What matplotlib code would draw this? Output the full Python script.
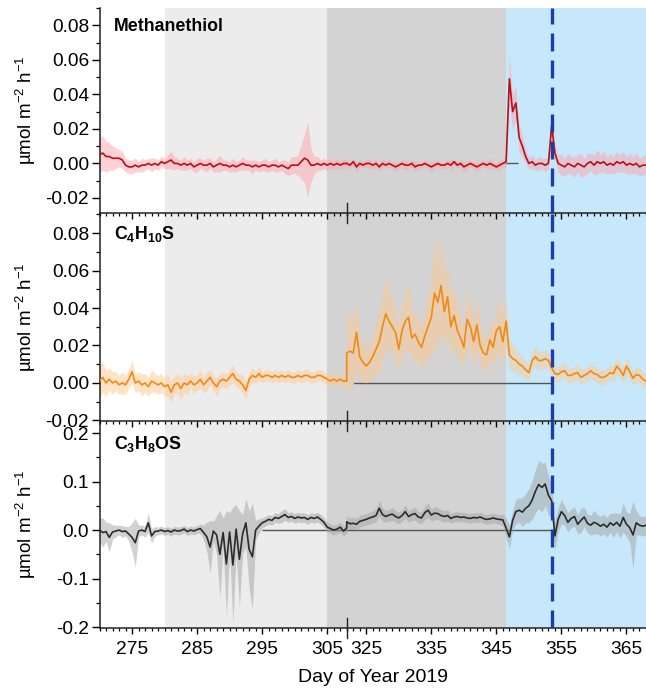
import numpy as np
import matplotlib
matplotlib.use('Agg')
import matplotlib.pyplot as plt
import matplotlib.transforms as mtransforms
from matplotlib.ticker import FixedLocator, MultipleLocator, FormatStrFormatter

plt.rcParams['font.family'] = 'Liberation Sans'
plt.rcParams['mathtext.fontset'] = 'custom'
plt.rcParams['mathtext.rm'] = 'Liberation Sans'
plt.rcParams['mathtext.it'] = 'Liberation Sans:italic'
plt.rcParams['mathtext.bf'] = 'Liberation Sans:bold'
plt.rcParams['axes.unicode_minus'] = False

# x axis is broken between these two days
BREAK_LO, BREAK_HI = 308, 322
EVENT_DAY = 353.5

# half-day samples on both sides of the break
days = np.concatenate([np.arange(270, 308.01, 0.5), np.arange(322, 368.01, 0.5)])

methanethiol = [
    0.005, 0.006, 0.004, 0.004, 0.003, 0.003, 0.003, 0.002, -0.001, -0.002,
    -0.002, -0.001, -0.002, -0.001, -0.001, 0.000, -0.001, 0.000, -0.001, 0.001,
    0.000, 0.001, 0.002, 0.000, 0.000, -0.001, 0.000, -0.001, 0.000, -0.002,
    -0.001, 0.000, -0.001, -0.001, 0.000, -0.002, -0.001, 0.000, -0.001, -0.001,
    -0.002, -0.001, -0.002, -0.001, 0.000, -0.001, -0.001, -0.002, -0.001, -0.002,
    -0.001, -0.001, -0.002, -0.001, -0.001, -0.002, -0.001, -0.002, -0.003, -0.001,
    -0.001, -0.001, 0.001, 0.003, 0.002, -0.001, -0.001, 0.000, -0.001, 0.000,
    -0.001, 0.000, -0.001, 0.000, -0.001, 0.000, 0.000,
    0.000, -0.001, 0.001, -0.002, 0.000, -0.001, 0.000, 0.000, -0.001, 0.000,
    -0.002, 0.000, -0.001, 0.000, -0.001, -0.002, -0.001, 0.000, -0.001, -0.001,
    0.000, -0.002, -0.001, -0.001, 0.000, -0.001, -0.002, -0.001, 0.000, -0.001,
    -0.001, 0.000, -0.001, 0.001, -0.001, 0.000, -0.002, -0.001, 0.000, -0.001,
    -0.002, -0.001, 0.000, -0.001, 0.000, -0.001, -0.002, -0.001, 0.000, 0.001,
    0.049, 0.030, 0.035, 0.015, 0.010, 0.004, 0.000, 0.001, -0.001, 0.000,
    0.000, -0.001, 0.000, 0.022, 0.006, 0.000, -0.001, -0.002, 0.000, -0.001,
    -0.002, 0.000, -0.001, -0.002, 0.000, 0.001, -0.001, 0.001, 0.000, 0.001,
    -0.001, 0.000, -0.001, 0.001, 0.000, 0.001, -0.001, 0.000, -0.001, 0.000,
    -0.002, -0.001, -0.001,
]
methanethiol_err = [
    0.010, 0.010, 0.009, 0.008, 0.007, 0.006, 0.005, 0.005, 0.004, 0.004,
    0.004, 0.004, 0.003, 0.004, 0.003, 0.003, 0.004, 0.003, 0.003, 0.003,
    0.003, 0.004, 0.005, 0.004, 0.003, 0.003, 0.004, 0.003, 0.003, 0.003,
    0.004, 0.003, 0.003, 0.004, 0.003, 0.003, 0.004, 0.005, 0.003, 0.003,
    0.003, 0.004, 0.003, 0.003, 0.004, 0.003, 0.003, 0.004, 0.003, 0.003,
    0.003, 0.004, 0.003, 0.003, 0.004, 0.003, 0.003, 0.004, 0.004, 0.005,
    0.005, 0.006, 0.010, 0.014, 0.022, 0.010, 0.005, 0.004, 0.003, 0.003,
    0.003, 0.003, 0.002, 0.003, 0.002, 0.003, 0.002,
    0.003, 0.002, 0.002, 0.003, 0.002, 0.002, 0.002, 0.003, 0.002, 0.002,
    0.002, 0.003, 0.002, 0.002, 0.002, 0.003, 0.002, 0.002, 0.003, 0.002,
    0.002, 0.003, 0.002, 0.002, 0.002, 0.002, 0.003, 0.002, 0.002, 0.002,
    0.002, 0.002, 0.003, 0.002, 0.002, 0.002, 0.003, 0.002, 0.002, 0.002,
    0.003, 0.002, 0.002, 0.002, 0.003, 0.002, 0.002, 0.003, 0.002, 0.004,
    0.014, 0.010, 0.010, 0.008, 0.006, 0.004, 0.003, 0.004, 0.003, 0.004,
    0.003, 0.004, 0.003, 0.006, 0.004, 0.005, 0.006, 0.005, 0.006, 0.005,
    0.006, 0.005, 0.007, 0.005, 0.006, 0.005, 0.006, 0.007, 0.005, 0.006,
    0.005, 0.006, 0.005, 0.006, 0.005, 0.006, 0.005, 0.006, 0.005, 0.006,
    0.005, 0.006, 0.005,
]

c4h10s = [
    0.001, 0.003, 0.000, 0.002, 0.000, 0.001, -0.001, 0.000, -0.001, 0.002,
    0.006, 0.000, 0.001, -0.001, 0.000, -0.002, 0.001, 0.000, -0.001, 0.000,
    -0.002, -0.001, -0.005, -0.001, 0.000, -0.003, 0.000, -0.001, 0.001, -0.001,
    0.000, 0.002, -0.001, 0.001, 0.003, 0.000, -0.002, 0.001, 0.002, 0.001,
    0.003, 0.005, 0.002, 0.001, -0.001, -0.004, 0.002, 0.004, 0.003, 0.005,
    0.003, 0.004, 0.004, 0.003, 0.004, 0.003, 0.004, 0.003, 0.004, 0.003,
    0.003, 0.004, 0.003, 0.004, 0.004, 0.003, 0.003, 0.004, 0.004, 0.003,
    0.002, 0.001, 0.002, 0.001, 0.002, 0.001, 0.001,
    0.016, 0.017, 0.016, 0.027, 0.014, 0.011, 0.009, 0.011, 0.014, 0.018,
    0.022, 0.030, 0.037, 0.033, 0.030, 0.027, 0.018, 0.028, 0.033, 0.035,
    0.024, 0.026, 0.022, 0.019, 0.025, 0.030, 0.035, 0.048, 0.043, 0.052,
    0.038, 0.046, 0.030, 0.036, 0.028, 0.024, 0.019, 0.034, 0.030, 0.022,
    0.031, 0.020, 0.016, 0.015, 0.023, 0.019, 0.028, 0.030, 0.022, 0.033,
    0.015, 0.013, 0.012, 0.010, 0.009, 0.007, 0.0055, 0.012, 0.014, 0.012,
    0.012, 0.013, 0.012, 0.008, 0.005, 0.0045, 0.006, 0.0065, 0.004, 0.004,
    0.005, 0.0055, 0.003, 0.004, 0.005, 0.0065, 0.005, 0.0045, 0.003, 0.003,
    0.004, 0.0055, 0.005, 0.009, 0.007, 0.004, 0.009, 0.006, 0.0025, 0.0045,
    0.004, 0.002, 0.001,
]
c4h10s_err = [
    0.009, 0.008, 0.007, 0.006, 0.006, 0.005, 0.005, 0.006, 0.005, 0.005,
    0.006, 0.005, 0.005, 0.006, 0.005, 0.005, 0.006, 0.005, 0.005, 0.005,
    0.005, 0.006, 0.006, 0.005, 0.005, 0.006, 0.005, 0.005, 0.004, 0.005,
    0.004, 0.005, 0.004, 0.005, 0.004, 0.004, 0.005, 0.004, 0.004, 0.004,
    0.004, 0.005, 0.004, 0.004, 0.005, 0.005, 0.004, 0.004, 0.003, 0.004,
    0.003, 0.003, 0.003, 0.003, 0.003, 0.003, 0.003, 0.003, 0.003, 0.003,
    0.003, 0.003, 0.003, 0.003, 0.003, 0.003, 0.003, 0.003, 0.003, 0.003,
    0.003, 0.003, 0.003, 0.003, 0.003, 0.003, 0.003,
    0.020, 0.020, 0.019, 0.018, 0.012, 0.010, 0.009, 0.010, 0.011, 0.014,
    0.016, 0.018, 0.019, 0.016, 0.014, 0.013, 0.012, 0.014, 0.016, 0.018,
    0.013, 0.012, 0.012, 0.011, 0.013, 0.016, 0.022, 0.030, 0.020, 0.026,
    0.018, 0.022, 0.014, 0.018, 0.014, 0.012, 0.010, 0.016, 0.014, 0.012,
    0.014, 0.011, 0.009, 0.009, 0.011, 0.010, 0.013, 0.014, 0.012, 0.014,
    0.008, 0.007, 0.006, 0.006, 0.005, 0.005, 0.004, 0.005, 0.005, 0.005,
    0.005, 0.005, 0.005, 0.004, 0.004, 0.004, 0.004, 0.004, 0.004, 0.004,
    0.004, 0.004, 0.004, 0.004, 0.004, 0.004, 0.004, 0.004, 0.004, 0.004,
    0.004, 0.004, 0.004, 0.005, 0.004, 0.004, 0.005, 0.004, 0.004, 0.004,
    0.004, 0.004, 0.004,
]

c3h8os = [
    0.000, -0.005, -0.003, -0.015, -0.004, -0.002, 0.000, -0.003, -0.002, -0.008,
    -0.015, -0.026, -0.002, 0.000, -0.003, 0.015, -0.012, -0.003, -0.002, 0.000,
    -0.003, -0.001, -0.004, 0.000, -0.002, -0.001, 0.002, -0.003, 0.000, -0.002,
    0.001, 0.003, -0.005, -0.014, -0.035, -0.002, -0.010, -0.050, -0.005, -0.070,
    -0.004, -0.072, 0.002, -0.060, -0.008, 0.015, -0.040, -0.055, 0.000, 0.008,
    0.015, 0.018, 0.022, 0.020, 0.026, 0.024, 0.028, 0.032, 0.026, 0.028,
    0.024, 0.027, 0.025, 0.026, 0.022, 0.026, 0.024, 0.027, 0.022, 0.016,
    0.006, 0.003, 0.000, 0.002, 0.006, -0.002, 0.004,
    0.017, 0.013, 0.014, 0.012, 0.018, 0.020, 0.022, 0.025, 0.027, 0.030,
    0.045, 0.032, 0.028, 0.031, 0.033, 0.028, 0.025, 0.030, 0.038, 0.028,
    0.032, 0.034, 0.027, 0.025, 0.036, 0.041, 0.031, 0.035, 0.034, 0.030,
    0.028, 0.030, 0.024, 0.027, 0.028, 0.026, 0.027, 0.025, 0.024, 0.026,
    0.025, 0.027, 0.024, 0.022, 0.023, 0.025, 0.023, 0.022, 0.021, 0.004,
    -0.014, 0.020, 0.038, 0.041, 0.037, 0.045, 0.050, 0.062, 0.080, 0.094,
    0.088, 0.095, 0.072, 0.060, -0.012, 0.022, 0.038, 0.030, 0.016, 0.024,
    0.028, 0.012, 0.020, 0.027, 0.014, 0.010, 0.016, 0.013, 0.008, 0.012,
    0.006, 0.015, 0.010, 0.016, 0.008, 0.026, 0.012, 0.005, -0.010, 0.015,
    0.010, 0.008, 0.010,
]
c3h8os_err = [
    0.025, 0.030, 0.020, 0.030, 0.015, 0.012, 0.010, 0.012, 0.010, 0.015,
    0.030, 0.050, 0.012, 0.010, 0.012, 0.020, 0.015, 0.010, 0.008, 0.008,
    0.008, 0.008, 0.008, 0.008, 0.008, 0.008, 0.008, 0.008, 0.008, 0.008,
    0.008, 0.010, 0.015, 0.030, 0.055, 0.020, 0.040, 0.090, 0.030, 0.110,
    0.040, 0.120, 0.050, 0.100, 0.040, 0.050, 0.080, 0.110, 0.020, 0.015,
    0.010, 0.010, 0.010, 0.010, 0.010, 0.010, 0.012, 0.012, 0.010, 0.010,
    0.010, 0.010, 0.010, 0.010, 0.010, 0.010, 0.010, 0.010, 0.010, 0.010,
    0.010, 0.010, 0.010, 0.010, 0.010, 0.010, 0.010,
    0.012, 0.012, 0.012, 0.012, 0.012, 0.012, 0.012, 0.012, 0.012, 0.014,
    0.016, 0.014, 0.012, 0.012, 0.014, 0.012, 0.012, 0.012, 0.014, 0.012,
    0.012, 0.014, 0.012, 0.012, 0.014, 0.016, 0.012, 0.014, 0.012, 0.012,
    0.012, 0.012, 0.010, 0.010, 0.010, 0.010, 0.010, 0.010, 0.010, 0.010,
    0.010, 0.010, 0.010, 0.010, 0.010, 0.010, 0.010, 0.010, 0.012, 0.020,
    0.025, 0.020, 0.025, 0.025, 0.030, 0.030, 0.035, 0.040, 0.045, 0.050,
    0.050, 0.045, 0.040, 0.035, 0.030, 0.025, 0.025, 0.020, 0.020, 0.020,
    0.020, 0.020, 0.025, 0.020, 0.020, 0.020, 0.025, 0.020, 0.020, 0.020,
    0.020, 0.020, 0.025, 0.020, 0.025, 0.030, 0.025, 0.030, 0.070, 0.025,
    0.020, 0.020, 0.020,
]

xtick_days = [275, 285, 295, 305, 325, 335, 345, 355, 365]
xtick_labels = ['275', '285', '295', '305', '325', '335', '345', '355', '365']

# shaded periods (start, end, colour)
periods = [(280, 305, '#ececec'), (305, 346.5, '#d3d3d3'), (346.5, 368, '#c6e8fa')]


def fwd(x):
    x = np.asarray(x, dtype=float)
    return np.where(x <= BREAK_LO, x,
                    np.where(x >= BREAK_HI, x - (BREAK_HI - BREAK_LO), BREAK_LO))


def inv(y):
    y = np.asarray(y, dtype=float)
    return np.where(y <= BREAK_LO, y, y + (BREAK_HI - BREAK_LO))


panels = [
    dict(name='Methanethiol', y=methanethiol, err=methanethiol_err,
         line='#b80f16', band='#ffa3ad', alpha=0.5, ylim=(-0.0287, 0.090),
         major=0.02, minor=0.01, fmt='%.2f', label_y=0.952, zero=(346.3, 348.3)),
    dict(name=r'$\mathbf{C_4H_{10}S}$', y=c4h10s, err=c4h10s_err,
         line='#f08a12', band='#ffc990', alpha=0.5, ylim=(-0.0203, 0.0907),
         major=0.02, minor=0.01, fmt='%.2f', label_y=0.945, zero=(323, EVENT_DAY)),
    dict(name=r'$\mathbf{C_3H_8OS}$', y=c3h8os, err=c3h8os_err,
         line='#2b2b2b', band='#a4a4a4', alpha=0.5, ylim=(-0.202, 0.225),
         major=0.1, minor=0.05, fmt='%.1f', label_y=0.935, zero=(295, EVENT_DAY)),
]

fig = plt.figure(figsize=(6.46, 6.95), dpi=100)
left, width = 99.5 / 646, 546.5 / 646
boxes = [(8, 213), (213, 421), (421, 628)]

minor_days = [d for d in range(270, 369)
              if (d <= BREAK_LO or d >= BREAK_HI) and d not in xtick_days]

for i, (p, (top, bot)) in enumerate(zip(panels, boxes)):
    ax = fig.add_axes([left, (695 - bot) / 695, width, (bot - top) / 695])
    ax.set_zorder(10 - i)
    ax.set_xscale('function', functions=(fwd, inv))
    ax.set_xlim(270, 368)
    ax.set_ylim(*p['ylim'])

    for start, end, col in periods:
        ax.axvspan(start, end, color=col, lw=0, zorder=0)

    ax.hlines(0, p['zero'][0], p['zero'][1], color='#555555', lw=1.0, zorder=1)

    y = np.array(p['y'])
    e = np.array(p['err'])
    ax.fill_between(days, y - e, y + e, color=p['band'], alpha=p['alpha'], lw=0, zorder=2)
    ax.plot(days, y, color=p['line'], lw=1.2, zorder=3)

    ax.axvline(EVENT_DAY, color='#1c3da8', lw=2.4, dashes=(5.4, 2.7), zorder=4)

    # axis-break marker
    trans = mtransforms.blended_transform_factory(ax.transData, ax.transAxes)
    ax.plot([BREAK_LO, BREAK_LO], [-0.05, 0.05], transform=trans, color='#222222',
            lw=1.0, clip_on=False, zorder=6)

    ax.text(0.026, p['label_y'], p['name'], transform=ax.transAxes, fontsize=12.8,
            fontweight='bold', va='top', ha='left', zorder=7)

    ax.xaxis.set_major_locator(FixedLocator(xtick_days))
    ax.xaxis.set_minor_locator(FixedLocator(minor_days))
    ax.yaxis.set_major_locator(MultipleLocator(p['major']))
    ax.yaxis.set_minor_locator(MultipleLocator(p['minor']))
    ax.yaxis.set_major_formatter(FormatStrFormatter(p['fmt']))

    ax.tick_params(axis='y', which='major', direction='out', length=5.5, width=1.0,
                   labelsize=13.8, pad=2)
    ax.tick_params(axis='y', which='minor', direction='out', length=3, width=0.9)
    ax.tick_params(axis='x', which='major', direction='out', length=4.5, width=1.0,
                   labelsize=13.8, pad=4.5)
    ax.tick_params(axis='x', which='minor', direction='out', length=2.5, width=0.9)

    if i < 2:
        ax.tick_params(axis='x', which='both', labelbottom=False)
    else:
        ax.set_xticklabels(xtick_labels)
        ax.set_xlabel('Day of Year 2019', fontsize=14, labelpad=8)

    for side in ('top', 'right'):
        ax.spines[side].set_visible(False)
    for side in ('left', 'bottom'):
        ax.spines[side].set_linewidth(1.1)
        ax.spines[side].set_color('#222222')

    ax.set_ylabel('µmol m$^{-2}$ h$^{-1}$', fontsize=13.5)
    ax.yaxis.set_label_coords(-0.113, 0.5)

fig.savefig('out.png', dpi=100)
